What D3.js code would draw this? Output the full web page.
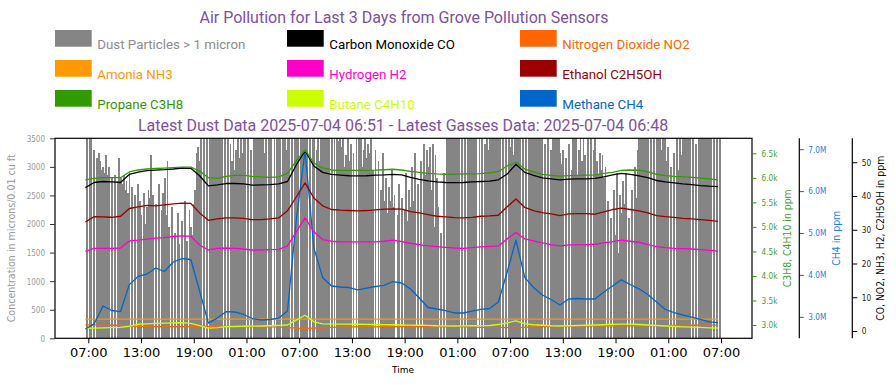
<!DOCTYPE html>
<html><head><meta charset="utf-8">
<script src="https://cdn.jsdelivr.net/npm/d3@7"></script>
<style>body{margin:0;background:#fff}svg{display:block}</style>
</head><body>
<svg id="chart" width="896" height="385"></svg>
<script>
const _ = null;
// ---------- DATA ----------
const titleText = "Air Pollution for Last 3 Days from Grove Pollution Sensors";
const subtitleText = "Latest Dust Data 2025-07-04 06:51 - Latest Gasses Data: 2025-07-04 06:48";
const seriesNames = ["Dust Particles > 1 micron","Carbon Monoxide CO","Nitrogen Dioxide NO2",
  "Amonia NH3","Hydrogen H2","Ethanol C2H5OH","Propane C3H8","Butane C4H10","Methane CH4"];

const dustStart = "2025-07-01T06:51";
const dustStepMinutes = 10;
const dust = [
3900,_,3900,3700,_,3300, _,3150,3250,3100,2950,3000, 2900,3200,2850,3000,_,2800,
_,2850,_,2750,3150,2800, 2700,2850,2600,2750,2550,2900, _,2650,_,2500,_,2700,
2400,2150,_,2550,2000,2300, 2600,2450,3200,2500,_,2350, _,2700,_,2250,2550,2800,
2150,3100,1950,_,2300,_, 1850,_,2200,1650,_,2050, _,2400,1700,_,2250,1950,
1800,2350,2600,3250,3350,3100, 3700,_,3900,_,3600,_, 3900,3800,4000,3700,3900,3800,
3900,3800,3950,_,3700,_, 3850,_,3400,3100,3650,2950, 3300,3500,3150,3600,3250,3800,
3900,_,3600,_,3300,_, 3900,3800,3700,3950,3850,3600, 3900,3250,3700,_,3800,3600,
3900,_,3800,_,3700,3900, 3800,_,3500,3900,3300,3700, 3900,_,3800,_,3900,3750,
3900,_,3800,3950,3850,3900, 3800,_,3900,_,3700,3850, _,3300,3800,3100,3900,3600,
3900,3700,3800,3500,_,3900, _,3600,_,3900,3450,3800, 3350,3900,3000,3200,3700,3100,
3400,_,3250,_,3600,_, 3500,3900,3000,3300,3800,3150, 3400,3250,3700,2950,_,3300,
_,3100,_,2600,3250,2400, 2800,2200,2650,2400,2950,2300, 2500,_,2150,2700,_,2450,
_,2250,2900,2050,2600,2300, 3000,2400,3250,_,2700,_, 3100,_,3400,2850,3300,3000,
3350,2600,3400,1950,3200,2800, 2300,_,1850,_,2900,_, 3900,3800,3600,3900,3700,3950,
3800,3900,3700,_,3900,_, 3850,_,3900,3800,3700,3950, 3900,3600,3800,_,3900,_,
3850,_,3400,3900,3300,3800, 3900,3700,3950,3800,3600,3900, 3800,_,3900,_,3700,_,
3900,3350,3800,3200,3900,3700, 3900,3800,3950,_,3700,_, 3900,_,3800,3600,3900,3500,
3900,3800,3700,3950,3900,3800, _,3400,_,3700,_,3300, 3900,3600,3800,3950,3500,3250,
3050,3300,_,3150,_,3400, _,2950,3800,3500,3900,2850, 3300,3700,3100,3600,3200,_,
3500,_,3900,_,3300,3600, 3100,2850,3250,2950,3200,2800, 3000,_,2400,_,2100,_,
2600,1800,2900,1500,2500,2200, 2750,2350,2900,_,2100,_, 2600,_,3000,2450,3300,3700,
3900,3800,3950,3700,3900,3850, _,3900,_,3800,_,3900, 3700,3950,3300,3850,3500,3900,
3100,3350,_,3000,_,3250, _,3600,2950,3900,3200,3800, 3900,3700,3950,3850,3900,_,
3800,_,3400,_,3900,3600, 3900,3850,3700,3950,3800,3900, 3800,_,3900,_,3850,_,
3700];

const gasStart = "2025-07-01T06:40";
const gasStepMinutes = 60;
const co = [42.5,44.0,44.3,44.2,44.0,46.4,47.1,47.5,47.7,47.8,48.0,48.3,48.2,46.0,43.0,43.3,43.7,43.7,43.6,43.2,43.3,43.4,43.6,
 44.3,49.2,53.4,48.9,47.0,
 46.4,46.2,46.0,45.95,46.0,46.2,46.25,46.4,46.25,45.5,44.9,44.5,44.2,44.0,43.95,44.0,44.2,44.3,44.4,
 44.8,46.5,49.4,47.0,46.1,
 45.4,45.1,44.8,45.0,45.1,45.1,45.2,45.7,46.25,46.7,46.4,46.0,45.45,44.6,44.2,43.9,43.6,43.4,43.1,42.9,42.8];
const no2 = [1.8,1.8,1.75,1.7,1.7, 1.5,1.4,1.35,1.3,1.3,1.3,1.3,1.3, 1.35,1.4,1.4, 1.35,1.3,1.3,1.3,1.25,1.2,1.15,
 1.0,0.85,0.8,0.85,0.95, 1.1,1.15,1.2,1.2,1.25,1.25,1.3,1.3,1.3,1.3,1.3,1.3,1.3,
 1.25,1.2,1.2,1.15,1.1,1.1,1.05,1.0,1.0,1.1,
 1.25,1.35,1.4,1.45,1.45,1.5,1.5,1.5,1.55,1.55,1.55,1.55,1.6,1.6,1.6,1.6,1.65,1.65,1.7,1.7,1.75,1.75];
const nh3 = [3.5,3.5,3.5,3.5,3.5,3.5,3.5,3.5,3.5,3.5,3.5,3.5,3.5,3.5,3.5,3.5,3.5,3.5,3.5,3.5,3.5,3.5,3.5,3.5,
 3.5,3.5,3.5,3.5,3.5,3.5,3.5,3.5,3.5,3.5,3.5,3.5,3.5,3.5,3.5,3.5,3.5,3.5,3.5,3.5,3.5,3.5,3.5,3.5,
 3.5,3.5,3.5,3.5,3.5,3.5,3.5,3.5,3.5,3.5,3.5,3.5,3.5,3.5,3.5,3.5,3.5,3.5,3.5,3.5,3.5,3.5,3.5,3.5,3.5];
const h2 = [23.6,24.5,24.5,24.5,24.6,26.7,26.9,27.2,27.5,27.7,28.0,28.2,28.1,25.5,24.0,24.5,24.6,24.5,24.3,24.0,24.0,24.1,24.2,
 25.2,29.4,33.5,29.4,27.1,
 26.6,26.4,26.4,26.4,26.4,26.4,26.6,26.9,26.5,26.0,25.6,25.2,25.0,24.8,24.6,24.5,24.7,24.9,25.1,
 25.2,27.3,29.2,27.3,26.7,
 26.1,25.6,25.2,25.5,25.5,25.6,25.7,26.1,26.5,26.9,26.6,26.3,25.6,25.0,24.7,24.5,24.4,24.3,24.1,23.9,23.7];
const ethanol = [32.3,33.9,33.8,33.7,34.0,36.3,36.8,37.2,37.1,37.4,37.7,37.9,37.8,35.0,32.8,33.2,33.5,33.5,33.4,33.0,33.0,33.2,33.5,
 35.6,39.7,43.9,39.4,37.1,
 36.0,35.8,35.7,35.6,35.7,35.9,36.1,36.2,36.1,35.4,35.0,34.5,34.0,33.8,33.6,33.5,33.7,34.0,34.1,
 34.3,36.8,39.1,36.6,35.7,
 35.1,34.7,34.2,34.7,34.8,34.8,34.6,35.3,36.0,36.4,36.0,35.6,35.0,34.2,33.9,33.7,33.4,33.2,33.0,32.8,32.5];
const propane = [5957,5990,6003,6003,6003,6120,6160,6180,6190,6200,6210,6220,6220,6140,6003,5990,6030,6050,6050,6030,6020,6010,6020,
 6090,6344,6568,6303,6201,
 6160,6154,6154,6154,6154,6156,6165,6175,6160,6130,6110,6093,6080,6073,6075,6080,6080,6085,6100,
 6130,6242,6318,6180,6120,
 6070,6050,6034,6045,6050,6055,6059,6090,6110,6150,6160,6155,6120,6073,6045,6030,6020,6010,5994,5980,5957];
const butane = [2933,2935,2940,2945,2953,2975,3015,3025,3033,3037,3042,3047,3035,2985,2935,2945,2965,2970,2975,2978,2980,2985,2992,
 3000,3100,3200,3065,3025,
 3020,3018,3016,3015,3013,3010,3008,3005,3000,2998,2995,2993,2985,2982,2980,2982,2985,2988,2990,
 3010,3045,3085,3025,3005,
 2995,2985,2980,2985,2990,2995,3000,3005,3012,3020,3018,3010,3000,2990,2980,2970,2962,2955,2950,2943,2935];
const methane = [2709000,2830000,3258000,3150000,3126000,3768000,3962000,4020000,4165000,4081000,4308000,4387000,4368000,3616000,2850000,2970000,3122000,3115000,3055000,2959000,2924000,2936000,2971000,
 3138000,5310000,6957000,4642000,3940000,
 3735000,3711000,3699000,3640000,3687000,3723000,3752000,3842000,3807000,3663000,3449000,3222000,3186000,3150000,3091000,3091000,3138000,3179000,3198000,
 3353000,4069000,4833000,3940000,3699000,
 3520000,3413000,3282000,3425000,3437000,3425000,3425000,3592000,3735000,3883000,3771000,3668000,3532000,3353000,3174000,3098000,3043000,2995000,2936000,2881000,2859000];

const xTickTimes = ["2025-07-01T07:00","2025-07-01T13:00","2025-07-01T19:00","2025-07-02T01:00","2025-07-02T07:00",
 "2025-07-02T13:00","2025-07-02T19:00","2025-07-03T01:00","2025-07-03T07:00","2025-07-03T13:00","2025-07-03T19:00",
 "2025-07-04T01:00","2025-07-04T07:00"];
const xTickLabels = ["07:00","13:00","19:00","01:00","07:00","13:00","19:00","01:00","07:00","13:00","19:00","01:00","07:00"];
const dustTicks = [0,500,1000,1500,2000,2500,3000,3500];
const dustTickLabels = ["0","500","1000","1500","2000","2500","3000","3500"];
const c3Ticks = [3000,3500,4000,4500,5000,5500,6000,6500];
const c3TickLabels = ["3.0k","3.5k","4.0k","4.5k","5.0k","5.5k","6.0k","6.5k"];
const ch4Ticks = [3000000,4000000,5000000,6000000,7000000];
const ch4TickLabels = ["3.0M","4.0M","5.0M","6.0M","7.0M"];
const ppmTicks = [0,10,20,30,40,50];
const ppmTickLabels = ["0","10","20","30","40","50"];
const axisTitles = {dust:"Concentration in microns/0.01 cu ft", c3:"C3H8, C4H10 in ppm", ch4:"CH4 in ppm",
  ppm:"CO, NO2, NH3, H2, C2H5OH in ppm", time:"Time"};

// ---------- STYLE / LAYOUT ----------
const colors = {dust:"#858585", co:"#000000", no2:"#ff6600", nh3:"#ff9900", h2:"#ff00cc",
  ethanol:"#990000", propane:"#339900", butane:"#ccff00", methane:"#0066cc"};
const legendKeys = ["dust","co","no2","nh3","h2","ethanol","propane","butane","methane"];
const purple = "#7e50a0";
const P = {l:55, r:752, t:138.3, b:338.3};

const parseM = d3.timeParse("%Y-%m-%dT%H:%M");
const parseS = d3.timeParse("%Y-%m-%dT%H:%M:%S");
const svg = d3.select("#chart");

const x = d3.scaleTime().domain([parseS("2025-07-01T03:12:36"), parseS("2025-07-04T10:31:42")]).range([P.l, P.r]);
const yDust = d3.scaleLinear().domain([0, 3500]).range([P.b, P.t]);
const yC3 = d3.scaleLinear().domain([2729, 6806]).range([P.b, P.t]);
const yCH4 = d3.scaleLinear().domain([2487000, 7260000]).range([P.b, P.t]);
const yPpm = d3.scaleLinear().domain([-2.16, 57.1]).range([P.b, P.t]);

// title
svg.append("text").attr("x", 404).attr("y", 22.5).attr("text-anchor","middle")
  .attr("font-family","Roboto").attr("font-size",16).attr("fill",purple).text(titleText);
svg.append("text").attr("x", 403).attr("y", 131).attr("text-anchor","middle")
  .attr("font-family","Roboto").attr("font-size",16).attr("fill",purple).text(subtitleText);

// legend
const legX = [55, 287, 520], legY = [30, 60, 90];
legendKeys.forEach((k, i) => {
  const cx = legX[i % 3], cy = legY[Math.floor(i / 3)];
  svg.append("rect").attr("x", cx).attr("y", cy).attr("width", 36.7).attr("height", 16.7).attr("fill", colors[k]);
  svg.append("text").attr("x", cx + 42.3).attr("y", cy + 19).attr("font-family","Roboto").attr("font-size",13.3)
    .attr("fill", k === "dust" ? "#8c8c8c" : colors[k]).text(seriesNames[i]);
});

// clip
svg.append("clipPath").attr("id","pc").append("rect")
  .attr("x", P.l).attr("y", P.t).attr("width", P.r - P.l).attr("height", P.b - P.t);
const plot = svg.append("g").attr("clip-path","url(#pc)");

// dust bars
const dT0 = parseM(dustStart);
const dustData = dust.map((v, i) => ({t: d3.timeMinute.offset(dT0, i * dustStepMinutes), v}));
const step = x(d3.timeMinute.offset(dT0, dustStepMinutes)) - x(dT0);
plot.append("g").attr("shape-rendering","crispEdges")
  .selectAll("rect").data(dustData.filter(d => d.v != null)).join("rect")
  .attr("x", d => x(d.t) - step / 2 - 0.2).attr("width", step + 0.4)
  .attr("y", d => yDust(d.v)).attr("height", d => yDust(0) - yDust(d.v))
  .attr("fill", colors.dust);

// gas lines
const gT0 = parseM(gasStart);
const gasTimes = co.map((_v, i) => d3.timeMinute.offset(gT0, i * gasStepMinutes));
function drawLine(vals, yScale, color) {
  const line = d3.line().defined(d => d != null).x((d, i) => x(gasTimes[i])).y(d => yScale(d));
  plot.append("path").attr("d", line(vals)).attr("fill","none").attr("stroke", color)
    .attr("stroke-width", 1.3).attr("stroke-linejoin","round");
}
drawLine(nh3, yPpm, colors.nh3);
drawLine(no2, yPpm, colors.no2);
drawLine(butane, yC3, colors.butane);
drawLine(methane, yCH4, colors.methane);
drawLine(h2, yPpm, colors.h2);
drawLine(ethanol, yPpm, colors.ethanol);
drawLine(co, yPpm, colors.co);
drawLine(propane, yC3, colors.propane);

// frame
svg.append("rect").attr("x", P.l).attr("y", P.t).attr("width", P.r - P.l).attr("height", P.b - P.t)
  .attr("fill","none").attr("stroke","#000").attr("stroke-width",1.2);

function squish(g, sx, fs, fill) {
  g.selectAll(".tick text").each(function () {
    const t = d3.select(this);
    const x0 = +t.attr("x") || 0;
    t.attr("x", x0 / sx).attr("transform", `scale(${sx},1)`)
     .attr("font-family","DejaVu Sans").attr("font-size", fs).attr("fill", fill);
  });
}

// left axis
const gL = svg.append("g").attr("transform", `translate(${P.l},0)`)
  .call(d3.axisLeft(yDust).tickValues(dustTicks).tickFormat((d, i) => dustTickLabels[i]).tickSize(5).tickPadding(5));
gL.select(".domain").remove();
gL.selectAll(".tick line").attr("stroke","#333");
squish(gL, 0.8, 9, "#9a9a9a");

// green axis
const gG = svg.append("g").attr("transform", `translate(${P.r},0)`)
  .call(d3.axisRight(yC3).tickValues(c3Ticks).tickFormat((d, i) => c3TickLabels[i]).tickSize(4.5).tickPadding(5));
gG.select(".domain").remove();
gG.selectAll(".tick line").attr("stroke", colors.propane);
squish(gG, 0.82, 9, "#4a9e2a");

// blue axis
const xB = 799.3;
const gB = svg.append("g").attr("transform", `translate(${xB},0)`)
  .call(d3.axisRight(yCH4).tickValues(ch4Ticks).tickFormat((d, i) => ch4TickLabels[i]).tickSize(4.5).tickPadding(4.5));
gB.select(".domain").remove();
gB.append("line").attr("x1",0).attr("x2",0).attr("y1",P.t).attr("y2",P.b).attr("stroke","#000").attr("stroke-width",1.2);
gB.selectAll(".tick line").attr("stroke", colors.methane);
squish(gB, 0.82, 9, "#2a7fd6");

// black axis
const xK = 852.3;
const gK = svg.append("g").attr("transform", `translate(${xK},0)`)
  .call(d3.axisRight(yPpm).tickValues(ppmTicks).tickFormat((d, i) => ppmTickLabels[i]).tickSize(5).tickPadding(4.5));
gK.select(".domain").remove();
gK.append("line").attr("x1",0).attr("x2",0).attr("y1",P.t).attr("y2",P.b).attr("stroke","#000").attr("stroke-width",1.2);
gK.selectAll(".tick line").attr("stroke","#000");
squish(gK, 0.82, 9, "#222");

// x axis
const gX = svg.append("g").attr("transform", `translate(0,${P.b})`)
  .call(d3.axisBottom(x).tickValues(xTickTimes.map(parseM)).tickFormat((d, i) => xTickLabels[i]).tickSize(5).tickPadding(4.5));
gX.select(".domain").remove();
gX.selectAll(".tick line").attr("stroke","#000");
gX.selectAll(".tick text").attr("font-family","DejaVu Sans").attr("font-size",13).attr("fill","#000");

// axis titles
function vTitle(cx, txt, len, color) {
  svg.append("text").attr("transform", `translate(${cx},${(P.t + P.b) / 2}) rotate(-90)`)
    .attr("text-anchor","middle").attr("dy","0.35em").attr("font-family","DejaVu Sans").attr("font-size",10)
    .attr("textLength", len).attr("lengthAdjust","spacingAndGlyphs").attr("fill", color).text(txt);
}
vTitle(11.7, axisTitles.dust, 168, "#9a9a9a");
vTitle(787.7, axisTitles.c3, 98, "#4a9e2a");
vTitle(836.7, axisTitles.ch4, 55, "#2a7fd6");
vTitle(880.8, axisTitles.ppm, 165, "#111");
svg.append("text").attr("x", 403).attr("y", 373).attr("text-anchor","middle").attr("font-family","DejaVu Sans")
  .attr("font-size",9.5).attr("textLength",22).attr("lengthAdjust","spacingAndGlyphs").attr("fill","#000").text(axisTitles.time);
</script>
</body></html>
